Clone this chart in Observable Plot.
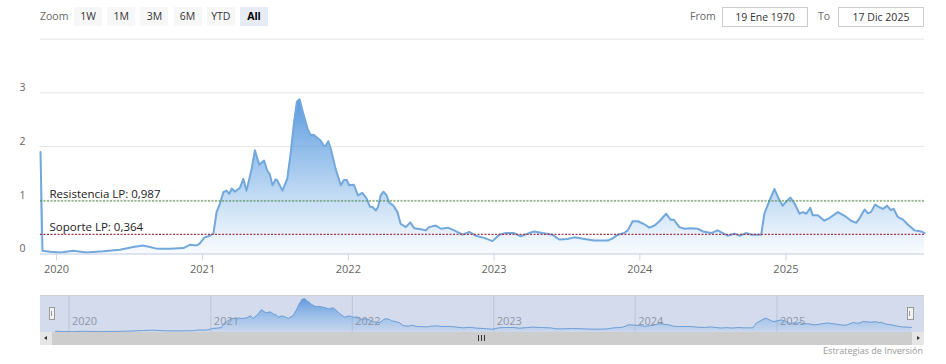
<!DOCTYPE html>
<html><head><meta charset="utf-8">
<script src="https://cdn.jsdelivr.net/npm/d3@7"></script>
<script src="https://cdn.jsdelivr.net/npm/@observablehq/plot@0.6"></script>
<style>
body{margin:0;background:#fff;font-family:"Open Sans",sans-serif;}
#wrap{position:relative;width:946px;height:364px;overflow:hidden;background:#fff;}
.abs{position:absolute;}
.btn{position:absolute;top:7px;height:19px;width:28px;background:#f7f7f7;color:#333;font-size:10.5px;line-height:19px;text-align:center;}
.btn.sel{background:#e6ebf5;color:#000;font-weight:bold;}
.lbl{position:absolute;top:7px;height:19px;line-height:19px;font-size:10.5px;color:#666;}
.box{position:absolute;top:7px;height:18px;width:84px;border:1px solid #cccccc;line-height:18px;font-size:10.5px;color:#333;text-align:center;background:#fff;}
</style></head><body>
<svg width="0" height="0" style="position:absolute">
<defs>
<linearGradient id="mainFill" x1="0" y1="0" x2="0" y2="1">
<stop offset="0" stop-color="#5a9ade" stop-opacity="1"/>
<stop offset="0.5" stop-color="#6aa6e3" stop-opacity="0.55"/>
<stop offset="1" stop-color="#7cb5ec" stop-opacity="0.05"/>
</linearGradient>
<linearGradient id="navFill" x1="0" y1="0" x2="0" y2="1">
<stop offset="0" stop-color="#5a95dc" stop-opacity="0.95"/>
<stop offset="1" stop-color="#7cb5ec" stop-opacity="0.15"/>
</linearGradient>
</defs></svg>
<div id="wrap"></div>
<script>
const dates = [
"2019-11-22","2019-11-27","2019-12-17","2020-01-11","2020-02-12","2020-03-16","2020-04-27","2020-06-08","2020-07-11","2020-08-05",
"2020-09-08","2020-10-11","2020-11-14","2020-11-30","2020-12-17","2020-12-24","2021-01-06","2021-01-19","2021-01-28","2021-02-05",
"2021-02-13","2021-02-22","2021-03-02","2021-03-09","2021-03-15","2021-03-23","2021-04-05","2021-04-13","2021-04-21","2021-05-04",
"2021-05-12","2021-05-23","2021-06-04","2021-06-12","2021-06-18","2021-06-25","2021-07-03","2021-07-07","2021-07-20","2021-08-01",
"2021-08-10","2021-08-18","2021-08-25","2021-09-01","2021-09-08","2021-09-21","2021-09-29","2021-10-06","2021-10-16","2021-10-24",
"2021-11-01","2021-11-05","2021-11-12","2021-11-18","2021-11-30","2021-12-13","2021-12-21","2021-12-28","2022-01-03","2022-01-15",
"2022-01-25","2022-02-05","2022-02-16","2022-02-24","2022-03-02","2022-03-11","2022-03-16","2022-03-23","2022-03-30","2022-04-07",
"2022-04-13","2022-04-24","2022-05-04","2022-05-12","2022-05-25","2022-06-05","2022-06-15","2022-07-02","2022-07-14","2022-07-22",
"2022-08-08","2022-08-21","2022-09-07","2022-09-23","2022-10-14","2022-10-31","2022-11-16","2022-12-07","2022-12-28","2023-01-14",
"2023-01-31","2023-02-20","2023-03-09","2023-03-26","2023-04-11","2023-05-02","2023-05-27","2023-06-13","2023-07-04","2023-07-21",
"2023-08-15","2023-09-09","2023-10-13","2023-10-25","2023-11-07","2023-11-23","2023-12-02","2023-12-14","2023-12-27","2024-01-13",
"2024-01-25","2024-02-07","2024-02-19","2024-03-07","2024-03-18","2024-03-26","2024-04-09","2024-04-22","2024-05-08","2024-05-25",
"2024-06-07","2024-06-28","2024-07-14","2024-07-27","2024-08-08","2024-08-25","2024-09-07","2024-09-23","2024-10-06","2024-10-31",
"2024-11-08","2024-11-21","2024-12-03","2024-12-16","2024-12-24","2025-01-02","2025-01-12","2025-01-22","2025-02-04","2025-02-12",
"2025-02-21","2025-03-03","2025-03-09","2025-03-22","2025-04-07","2025-04-20","2025-05-11","2025-06-01","2025-06-13","2025-06-26",
"2025-07-04","2025-07-17","2025-07-25","2025-08-02","2025-08-12","2025-08-23","2025-09-01","2025-09-11","2025-09-20","2025-09-28",
"2025-10-08","2025-10-21","2025-11-02","2025-11-19","2025-12-06","2025-12-14"
];
const values = [
1.90,0.06,0.04,0.03,0.06,0.03,0.05,0.08,0.13,0.16,
0.10,0.10,0.11,0.17,0.16,0.19,0.31,0.34,0.38,0.78,
0.93,1.15,1.18,1.12,1.22,1.16,1.24,1.40,1.18,1.59,
1.93,1.66,1.74,1.55,1.49,1.28,1.39,1.37,1.18,1.40,
1.90,2.45,2.83,2.88,2.67,2.33,2.21,2.22,2.16,2.11,
2.01,2.01,2.10,1.96,1.59,1.28,1.38,1.38,1.28,1.29,
1.09,1.14,1.03,0.88,0.88,0.81,0.87,1.09,1.16,1.09,
0.96,0.90,0.78,0.56,0.50,0.59,0.48,0.46,0.44,0.50,
0.53,0.47,0.49,0.44,0.36,0.41,0.34,0.30,0.24,0.36,
0.39,0.39,0.33,0.38,0.42,0.39,0.36,0.27,0.28,0.31,
0.28,0.25,0.25,0.29,0.36,0.39,0.44,0.61,0.61,0.55,
0.49,0.53,0.61,0.75,0.64,0.64,0.50,0.47,0.48,0.47,
0.42,0.39,0.44,0.39,0.34,0.38,0.34,0.39,0.36,0.36,
0.75,1.00,1.21,1.00,0.90,0.98,1.05,0.95,0.75,0.78,
0.75,0.86,0.72,0.72,0.62,0.67,0.78,0.69,0.62,0.58,
0.66,0.83,0.76,0.78,0.92,0.87,0.84,0.90,0.82,0.84,
0.69,0.64,0.55,0.44,0.42,0.39
];
const levelNames = ["Resistencia LP", "Soporte LP"];
const levelValues = [0.987, 0.364];
const yearTicks = ["2020","2021","2022","2023","2024","2025"];
const yTicks = [0, 1, 2, 3];
const gridValues = [0, 1, 2, 3, 4];
const rangeButtons = ["1W","1M","3M","6M","YTD","All"];
const selectedButton = "All";
const zoomLabel = "Zoom";
const fromLabel = "From";
const toLabel = "To";
const fromDate = "19 Ene 1970";
const toDate = "17 Dic 2025";
const credit = "Estrategias de Inversión";

const data = dates.map((d, i) => ({date: new Date(d + "T00:00:00Z"), value: values[i]}));
// the navigator (grouped overview) does not show the very first spike
const navData = data.slice(1);
const levels = levelNames.map((n, i) => ({name: n, value: levelValues[i], label: `${n}: ${levelValues[i].toFixed(3).replace(".", ",")}`}));
const yearDates = yearTicks.map(y => new Date(`${y}-01-01T00:00:00Z`));
const xDomain = d3.extent(data, d => d.date);
const font = '"Open Sans", sans-serif';

const wrap = document.getElementById("wrap");

// range selector
const zl = document.createElement("div");
zl.className = "lbl"; zl.style.left = "40px"; zl.textContent = zoomLabel; wrap.appendChild(zl);
rangeButtons.forEach((b, i) => {
  const el = document.createElement("div");
  el.className = "btn" + (b === selectedButton ? " sel" : "");
  el.style.left = (74 + i * 33.2) + "px";
  el.textContent = b;
  wrap.appendChild(el);
});
const fl = document.createElement("div"); fl.className = "lbl"; fl.style.left = "690px"; fl.textContent = fromLabel; wrap.appendChild(fl);
const fb = document.createElement("div"); fb.className = "box"; fb.style.left = "722px"; fb.textContent = fromDate; wrap.appendChild(fb);
const tl = document.createElement("div"); tl.className = "lbl"; tl.style.left = "818px"; tl.textContent = toLabel; wrap.appendChild(tl);
const tb = document.createElement("div"); tb.className = "box"; tb.style.left = "838px"; tb.textContent = toDate; wrap.appendChild(tb);

// main chart
const main = Plot.plot({
  width: 946, height: 290,
  marginLeft: 40, marginRight: 22, marginTop: 38.7, marginBottom: 36.5,
  style: {fontFamily: font, background: "transparent", overflow: "visible"},
  x: {type: "utc", domain: xDomain, label: null},
  y: {domain: [0, 4], label: null},
  marks: [
    Plot.gridY(gridValues, {stroke: "#e6e6e6", strokeOpacity: 1}),
    Plot.areaY(data, {x: "date", y: "value", fill: "url(#mainFill)"}),
    Plot.lineY(data, {x: "date", y: "value", stroke: "#72a8dc", strokeWidth: 2}),
    Plot.ruleY([0], {stroke: "#ccd6eb"}),
    Plot.ruleY([levels[0]], {y: "value", stroke: "#4a8a3c", strokeDasharray: "2,1.5", strokeWidth: 1.2}),
    Plot.ruleY([levels[1]], {y: "value", stroke: "#a83548", strokeDasharray: "2,1.5", strokeWidth: 1.2}),
    Plot.text(levels, {y: "value", text: "label", frameAnchor: "left", textAnchor: "start", dx: 9, dy: -7, fill: "#222", fontSize: 11.5}),
    Plot.axisY({ticks: yTicks, tickFormat: d => String(d), tickSize: 0, tickPadding: 15, dy: -5, fill: "#666", fontSize: 10.5, label: null}),
    Plot.axisX({ticks: yearDates, tickFormat: d3.utcFormat("%Y"), tickSize: 7, tickPadding: 4, stroke: "#ccd6eb", fill: "#666", fontSize: 11, label: null})
  ]
});
Object.assign(main.style, {position: "absolute", left: "0px", top: "0px"});
wrap.appendChild(main);

// navigator background
const navBg = document.createElement("div");
navBg.className = "abs";
Object.assign(navBg.style, {left: "40px", top: "295px", width: "884px", height: "36px", background: "#d3dbed", borderTop: "1px solid #cfcfcf"});
wrap.appendChild(navBg);

const nav = Plot.plot({
  width: 946, height: 60,
  marginLeft: 53, marginRight: 35, marginTop: 6, marginBottom: 18,
  style: {fontFamily: font, background: "transparent", overflow: "visible"},
  x: {type: "utc", domain: xDomain, axis: null},
  y: {domain: [0, 3], range: [41.5, 7], axis: null},
  marks: [
    Plot.ruleX(yearDates, {stroke: "#bcc5d9"}),
    Plot.areaY(navData, {x: "date", y: "value", fill: "url(#navFill)"}),
    Plot.lineY(navData, {x: "date", y: "value", stroke: "#6f9fd6", strokeWidth: 1}),
    Plot.text(yearTicks, {x: d => new Date(`${d}-01-01T00:00:00Z`), text: d => d, frameAnchor: "bottom", textAnchor: "start", dx: 3, dy: -8, fill: "#8e95a5", fontSize: 11})
  ]
});
Object.assign(nav.style, {position: "absolute", left: "0px", top: "290px"});
wrap.appendChild(nav);

// handles
[[49, 6], [907, 7]].forEach(([l, w]) => {
  const h = document.createElement("div");
  h.className = "abs";
  Object.assign(h.style, {left: l + "px", top: "307px", width: w + "px", height: "13px", background: "#f2f2f2", border: "1px solid #999", boxSizing: "border-box"});
  const inner = document.createElement("div");
  Object.assign(inner.style, {position: "absolute", left: "1px", top: "3px", width: (w - 4) + "px", height: "5px", borderLeft: "1px solid #999", borderRight: "1px solid #999"});
  h.appendChild(inner);
  wrap.appendChild(h);
});

// scrollbar
const sb = document.createElement("div");
sb.className = "abs";
Object.assign(sb.style, {left: "40px", top: "332px", width: "884px", height: "13px", background: "#cdcdcd"});
wrap.appendChild(sb);
const lbtn = document.createElement("div");
lbtn.className = "abs";
Object.assign(lbtn.style, {left: "40px", top: "332px", width: "12px", height: "13px", background: "#e6e6e6"});
wrap.appendChild(lbtn);
const la = document.createElement("div");
la.className = "abs";
Object.assign(la.style, {left: "44px", top: "336px", width: "0", height: "0", borderTop: "2.5px solid transparent", borderBottom: "2.5px solid transparent", borderRight: "3px solid #333"});
wrap.appendChild(la);
const rbtn = document.createElement("div");
rbtn.className = "abs";
Object.assign(rbtn.style, {left: "912px", top: "332px", width: "12px", height: "13px", background: "#e6e6e6"});
wrap.appendChild(rbtn);
const ra = document.createElement("div");
ra.className = "abs";
Object.assign(ra.style, {left: "917px", top: "336px", width: "0", height: "0", borderTop: "2.5px solid transparent", borderBottom: "2.5px solid transparent", borderLeft: "3px solid #333"});
wrap.appendChild(ra);
[478, 481, 484].forEach(x => {
  const g = document.createElement("div");
  g.className = "abs";
  Object.assign(g.style, {left: x + "px", top: "335px", width: "1px", height: "6px", background: "#333"});
  wrap.appendChild(g);
});

// credits
const cr = document.createElement("div");
cr.className = "abs";
Object.assign(cr.style, {left: "0px", width: "923px", top: "344px", textAlign: "right", fontSize: "9px", color: "#999", lineHeight: "14px"});
cr.textContent = credit;
wrap.appendChild(cr);
</script>
</body></html>
